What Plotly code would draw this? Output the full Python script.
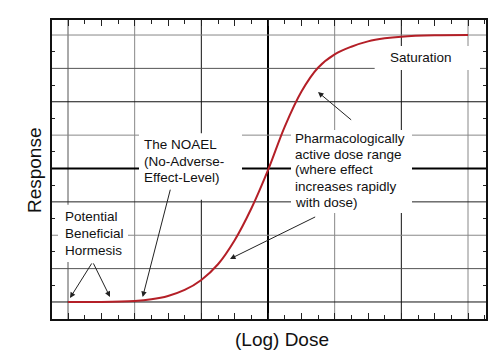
import plotly.graph_objects as go

# ---- data ----
log_dose = [0.0, 0.5, 1.0, 1.25, 1.5, 1.75, 2.0, 2.25, 2.5, 2.75, 3.0,
            3.25, 3.5, 3.75, 4.0, 4.25, 4.5, 4.75, 5.0, 5.5, 6.0]
response = [0.0, 0.0, 0.03, 0.08, 0.18, 0.36, 0.66, 1.13, 1.85, 2.8, 3.95,
            5.25, 6.3, 7.02, 7.42, 7.65, 7.81, 7.9, 7.95, 7.99, 8.0]

grid_x = [0, 1, 2, 3, 4, 5, 6]
grid_y = [0, 1, 2, 3, 4, 5, 6, 7, 8]
x_title = "(Log) Dose"
y_title = "Response"
saturation_lines = ["Saturation"]
noael_lines = ["The NOAEL", "(No-Adverse-", "Effect-Level)"]
hormesis_lines = ["Potential", "Beneficial", "Hormesis"]
pharma_lines = ["Pharmacologically", "active dose range", "(where effect",
                "increases rapidly", "with dose)"]

FONT = "Liberation Sans, Arial, sans-serif"

fig = go.Figure()
fig.add_trace(go.Scatter(
    x=log_dose, y=response, mode="lines",
    line=dict(color="#b41f27", width=2, shape="spline", smoothing=1.0),
    hoverinfo="skip", showlegend=False))

# grid line styling (colour, width) per position
x_style = {0: ("#555", 1), 1: ("#888", 1), 2: ("#111", 1), 3: ("#000", 2),
           4: ("#888", 1), 5: ("#111", 1), 6: ("#888", 1)}
y_style = {0: ("#111", 1), 1: ("#555", 1), 2: ("#888", 1), 3: ("#222", 1),
           4: ("#000", 2), 5: ("#888", 1), 6: ("#111", 1), 7: ("#555", 1),
           8: ("#888", 1)}
shapes = []
for gx in grid_x:
    c, w = x_style[gx]
    shapes.append(dict(type="line", xref="x", yref="paper", x0=gx, x1=gx,
                       y0=0, y1=1, line=dict(color=c, width=w), layer="between"))
for gy in grid_y:
    c, w = y_style[gy]
    shapes.append(dict(type="line", xref="paper", yref="y", x0=0, x1=1,
                       y0=gy, y1=gy, line=dict(color=c, width=w), layer="between"))

# white label boxes (cover the grid behind the labels)
boxes = [(4.60, 6.18, 6.95, 7.67),
         (1.065, 2.61, 3.06, 5.06),
         (-0.15, 0.90, 1.20, 2.91),
         (3.345, 5.16, 2.67, 5.15)]
for x0, x1, y0, y1 in boxes:
    shapes.append(dict(type="rect", xref="x", yref="y", x0=x0, x1=x1, y0=y0, y1=y1,
                       fillcolor="white", line=dict(width=0), layer="between"))

annotations = []


def add_lines(lines, x, ys):
    for t, y in zip(lines, ys):
        annotations.append(dict(text=t, x=x, y=y, xref="x", yref="y",
                                xanchor="left", yanchor="middle", showarrow=False,
                                font=dict(family=FONT, size=13.5, color="#111")))


add_lines(saturation_lines, 4.80, [7.34])
add_lines(noael_lines, 1.11, [4.73, 4.22, 3.72])
add_lines(hormesis_lines, -0.075, [2.55, 2.04, 1.53])
add_lines(pharma_lines, 3.375, [4.91, 4.43, 3.96, 3.45, 2.97])

arrows = [((3.75, 6.29), (4.27, 5.42)),
          ((2.43, 1.29), (3.73, 2.57)),
          ((1.12, 0.15), (1.54, 3.41)),
          ((0.03, 0.12), (0.37, 1.20)),
          ((0.63, 0.15), (0.37, 1.20))]
for (hx, hy), (tx, ty) in arrows:
    annotations.append(dict(text="", x=hx, y=hy, ax=tx, ay=ty, xref="x", yref="y",
                            axref="x", ayref="y", showarrow=True, arrowhead=2,
                            arrowsize=1.1, arrowwidth=1, arrowcolor="#222",
                            standoff=0, startstandoff=0))

annotations.append(dict(text=y_title, textangle=-90, x=-0.0415, y=0.498,
                        xref="paper", yref="paper", xanchor="center", yanchor="middle",
                        showarrow=False, font=dict(family=FONT, size=19, color="#111")))
annotations.append(dict(text=x_title, x=0.53, y=-0.070,
                        xref="paper", yref="paper", xanchor="center", yanchor="middle",
                        showarrow=False, font=dict(family=FONT, size=19, color="#111")))

fig.update_layout(
    width=503, height=353,
    margin=dict(l=52, r=17, t=20, b=34),
    paper_bgcolor="white", plot_bgcolor="white",
    shapes=shapes, annotations=annotations,
    xaxis=dict(range=[-0.24, 6.27], showgrid=False, zeroline=False,
               showline=True, linecolor="#111", linewidth=2, mirror="allticks",
               ticks="inside", tick0=0, dtick=0.5, ticklen=6, tickcolor="#222",
               tickwidth=1, showticklabels=False,
               minor=dict(ticks="inside", dtick=0.25, tick0=0, ticklen=4,
                          tickcolor="#222", showgrid=False)),
    yaxis=dict(range=[-0.51, 8.45], showgrid=False, zeroline=False,
               showline=True, linecolor="#111", linewidth=2, mirror="allticks",
               ticks="inside", tick0=0.5, dtick=1, ticklen=3, tickcolor="#222",
               tickwidth=1, showticklabels=False),
)

fig.write_html("out.html")
